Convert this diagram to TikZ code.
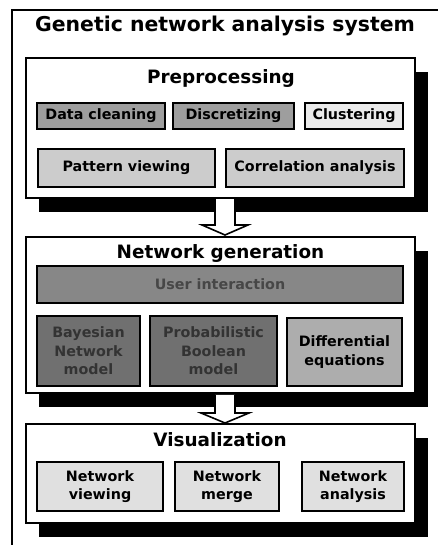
\documentclass[tikz,border=0pt]{standalone}
\usepackage{fontspec}
\setmainfont{DejaVu Sans}
\begin{document}
\begin{tikzpicture}[x=1pt,y=-1pt,
  frame/.style={draw=black,line width=1.4pt},
  section/.style={draw=black,line width=1.7pt,fill=white,inner sep=0pt},
  dropshadow/.style={fill=black},
  maintitle/.style={font=\bfseries\fontsize{20.4}{24}\selectfont,anchor=base},
  sectitle/.style={font=\bfseries\fontsize{18.4}{20}\selectfont,anchor=base},
  cell/.style={draw=black,line width=1.6pt,inner sep=0pt,align=center,
    font=\bfseries\fontsize{14.3}{18.5}\selectfont},
  midcell/.style={cell,fill=black!38},
  softcell/.style={cell,fill=black!20},
  palecell/.style={cell,fill=black!8},
  dimcell/.style={cell,fill=black!47,text=black!72},
  darkcell/.style={cell,fill=black!56,text=black!80},
  eqcell/.style={cell,fill=black!32},
  viewcell/.style={cell,fill=black!12},
  blockarrow/.style={draw=black,line width=1.6pt,fill=white,line join=miter}]

\useasboundingbox (0,0) rectangle (438,545);
\fill[white] (0,0) rectangle (438,545);
\clip (0,0) rectangle (438,545);

% outer frame, running off the page to the right and below
\draw[frame] (12,10) rectangle (470,580);
\node[maintitle] (title) at (225,32) {Genetic network analysis system};

% drop shadows of the three stages
\fill[dropshadow] (39,72) rectangle (428,212);
\fill[dropshadow] (39,251) rectangle (428,407);
\fill[dropshadow] (39,438) rectangle (428,537);

% stage 1: preprocessing
\node[section,minimum width=389pt,minimum height=140pt] (prep) at (220.5,128) {};
\node[sectitle] (preptitle) at (221,84) {Preprocessing};
\node[midcell,minimum width=128pt,minimum height=26pt] (clean) at (101,116) {Data cleaning};
\node[midcell,minimum width=121pt,minimum height=26pt] (discr) at (233.5,116) {Discretizing};
\node[palecell,minimum width=98pt,minimum height=26pt] (clust) at (354,116) {Clustering};
\node[softcell,minimum width=177pt,minimum height=38pt] (pattern) at (126.5,168) {Pattern viewing};
\node[softcell,minimum width=178pt,minimum height=38pt] (corr) at (315,168) {Correlation analysis};

% stage 2: network generation
\node[section,minimum width=389pt,minimum height=156pt] (netgen) at (220.5,315) {};
\node[sectitle] (gentitle) at (220.5,258) {Network generation};
\node[dimcell,minimum width=366pt,minimum height=37pt] (user) at (220,284.5) {User interaction};
\node[darkcell,minimum width=103pt,minimum height=70pt] (bayes) at (88.5,351) {Bayesian\\Network\\model};
\node[darkcell,minimum width=127pt,minimum height=70pt] (prob) at (213.5,351) {Probabilistic\\Boolean\\model};
\node[eqcell,minimum width=115pt,minimum height=68pt] (diff) at (344.5,352) {Differential\\equations};

% stage 3: visualization
\node[section,minimum width=389pt,minimum height=99pt] (vis) at (220.5,473.5) {};
\node[sectitle] (vistitle) at (220,446) {Visualization};
\node[viewcell,minimum width=126pt,minimum height=49pt] (nview) at (100,486.5) {Network\\viewing};
\node[viewcell,minimum width=104pt,minimum height=49pt] (nmerge) at (227,486.5) {Network\\merge};
\node[viewcell,minimum width=102pt,minimum height=49pt] (nanal) at (353,486.5) {Network\\analysis};

% block arrows between the stages
\draw[blockarrow] (215,199.2) -- (215,225) -- (202,225) -- (225,235) -- (248,225) -- (235,225) -- (235,199.2);
\draw[blockarrow] (215,394.8) -- (215,413) -- (201,413) -- (225,423) -- (249,413) -- (235,413) -- (235,394.8);
\end{tikzpicture}
\end{document}
